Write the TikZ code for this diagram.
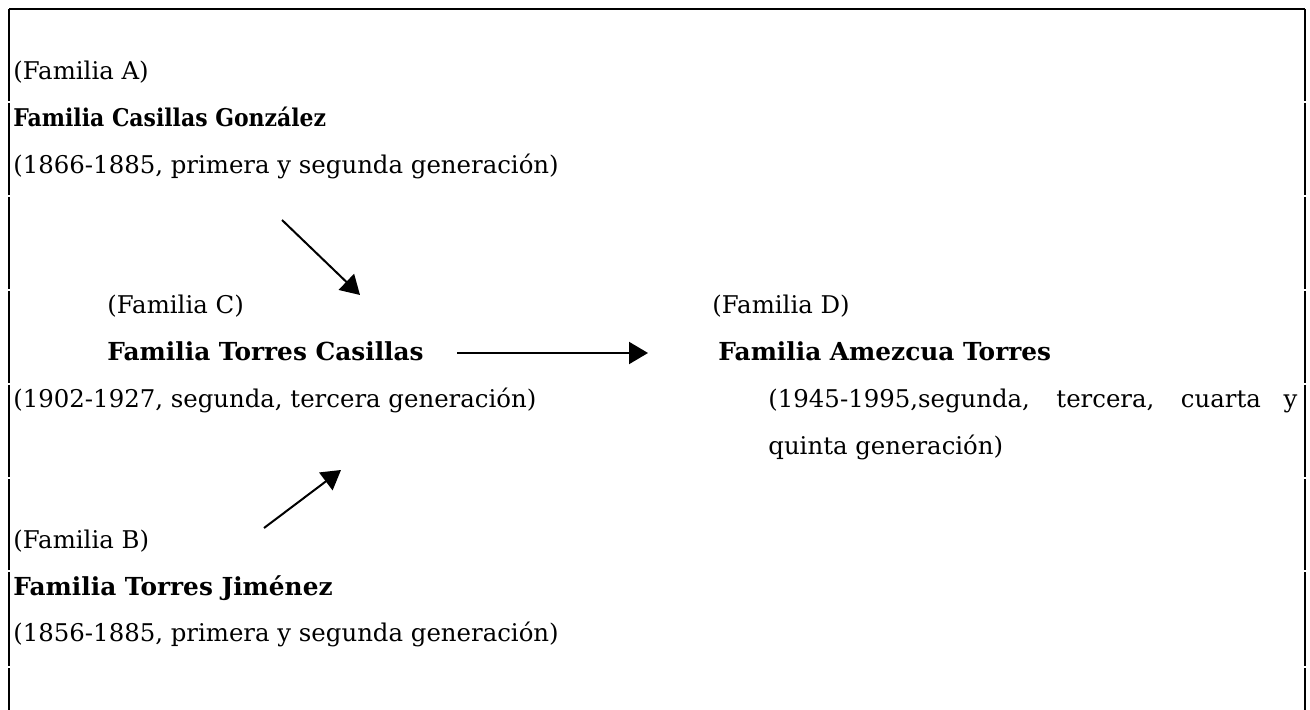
\documentclass[tikz,border=0pt]{standalone}
\usepackage{fontspec}
\setmainfont{DejaVu Serif}
\newfontfamily\condserif{DejaVu Serif Condensed}
\usetikzlibrary{arrows.meta}
\tikzset{
  famtxt/.style={anchor=base west, inner sep=0pt, font=\fontsize{12.2}{14}\selectfont},
  famname/.style={famtxt, font=\fontsize{12.4}{14}\selectfont\bfseries},
  link/.style={-{Triangle[length=9.5pt,width=11pt]}, line width=1pt}
}
\begin{document}
\begin{tikzpicture}[x=0.5pt,y=-0.5pt]
\useasboundingbox (0,0) rectangle (1310,710);
% frame, broken into rows like the original
\draw[line width=1pt] (9,9) -- (1305,9);
\foreach \a/\b in {9/101,103/195,197/289,291/383,385/477,479/570,572/666,668/710}{
  \draw[line width=1pt] (9,\a) -- (9,\b);
  \draw[line width=1pt] (1305,\a) -- (1305,\b);
}
% familia A
\node[famtxt] (famA) at (13,80) {(Familia A)};
\node[famname, font=\fontsize{12.2}{14}\selectfont\condserif\bfseries] (famAname) at (13,127) {Familia Casillas González};
\node[famtxt] (famAyears) at (13,174) {(1866-1885, primera y segunda generación)};
% familia C
\node[famtxt] (famC) at (107,314) {(Familia C)};
\node[famname] (famCname) at (107,361) {Familia Torres Casillas};
\node[famtxt] (famCyears) at (13,408) {(1902-1927, segunda, tercera generación)};
% familia D
\node[famtxt] (famD) at (712,314) {(Familia D)};
\node[famname] (famDname) at (718,361) {Familia Amezcua Torres};
\node[famtxt] (famDyears) at (768,408) {\makebox[264.5pt][s]{(1945-1995,segunda, tercera, cuarta y}};
\node[famtxt] (famDyears2) at (768,455) {quinta generación)};
% familia B
\node[famtxt] (famB) at (13,548) {(Familia B)};
\node[famname] (famBname) at (13,595) {Familia Torres Jiménez};
\node[famtxt] (famByears) at (13,641) {(1856-1885, primera y segunda generación)};
% arrows
\coordinate (aStart) at (282,220);
\coordinate (aEnd) at (360,295);
\coordinate (bStart) at (264,528);
\coordinate (bEnd) at (341,470);
\coordinate (cStart) at (457,353);
\coordinate (cEnd) at (648,353);
\draw[link] (aStart) -- (aEnd);
\draw[link] (bStart) -- (bEnd);
\draw[link] (cStart) -- (cEnd);
\end{tikzpicture}
\end{document}
